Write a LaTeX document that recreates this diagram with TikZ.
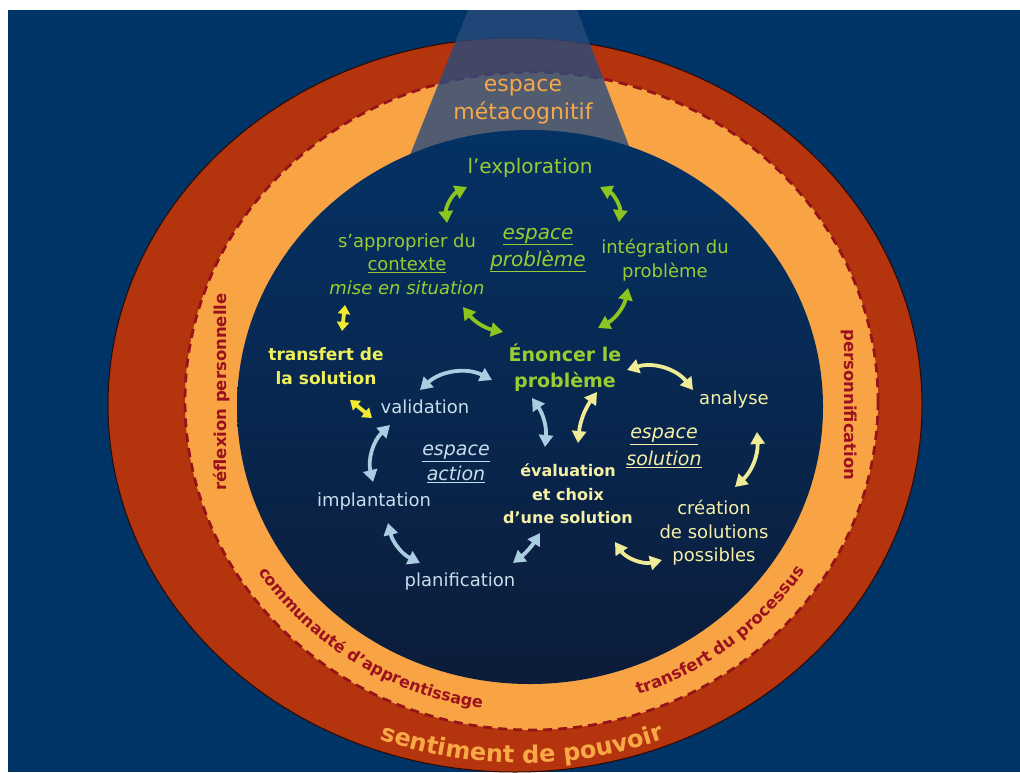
\documentclass[tikz,border=0pt]{standalone}
\usepackage{fontspec}
\setmainfont{DejaVu Sans}
\usepackage{tikz}
\usetikzlibrary{arrows.meta,decorations.text}
\definecolor{bgblue}{RGB}{0,51,102}
\definecolor{ringin}{RGB}{180,52,14}
\definecolor{ringout}{RGB}{105,24,8}
\definecolor{ringorange}{RGB}{248,163,68}
\definecolor{dashred}{RGB}{150,20,25}
\definecolor{spacetop}{RGB}{4,50,100}
\definecolor{spacebot}{RGB}{12,28,58}
\definecolor{metablue}{RGB}{40,75,125}
\definecolor{probgreen}{RGB}{153,204,51}
\definecolor{actblue}{RGB}{200,222,236}
\definecolor{solyellow}{RGB}{245,240,165}
\definecolor{transyellow}{RGB}{240,240,90}
\definecolor{ringtext}{RGB}{155,18,30}
\definecolor{metaorange}{RGB}{248,168,70}
\definecolor{greenarr}{RGB}{140,196,32}
\definecolor{bluearr}{RGB}{170,205,225}
\definecolor{solarr}{RGB}{240,235,150}
\definecolor{transarr}{RGB}{240,235,50}
\pgfdeclareradialshading{ringshade}{\pgfpoint{0bp}{0bp}}{color(0bp)=(ringin); color(43bp)=(ringin); color(50bp)=(ringout)}
\tikzset{lbl/.style = {inner sep=0pt, align=center, font=\fontsize{18}{23.5}\selectfont},
         boldlbl/.style = {lbl, font=\fontsize{17}{23.5}\selectfont\bfseries},
         spacelbl/.style = {lbl, font=\fontsize{20}{27}\selectfont\itshape},
         ringlbl/.style = {inner sep=0pt, text=ringtext, font=\fontsize{16.5}{16.5}\selectfont\bfseries},
         bigarrow/.style = {line width=3.8pt, >={Triangle[length=12pt,width=14pt]}, <->},
         greenarrow/.style = {bigarrow, draw=greenarr},
         bluearrow/.style = {bigarrow, draw=bluearr},
         solarrow/.style = {bigarrow, draw=solarr},
         transarrow/.style = {bigarrow, draw=transarr, >={Triangle[length=9pt,width=12pt]}}}

\begin{document}
\begin{tikzpicture}[x=1pt, y=-1pt]
    \useasboundingbox (0,0) rectangle (1020,772);
    \fill[white] (0,0) rectangle (1020,772);
    \fill[bgblue] (8,10) rectangle (1020,772);

    \shadedraw[shading=ringshade, draw=black!60!ringout, line width=1pt] (515,405) ellipse [x radius=407, y radius=367];
    \fill[ringorange] (531.5,401) ellipse [x radius=346.5, y radius=329];
    \draw[dashred, line width=2.8pt, dash pattern=on 9pt off 6pt] (531.5,401) ellipse [x radius=346.5, y radius=329];
    \fill[metablue, opacity=0.8] (468,10) -- (577,10) -- (642,180) -- (400,180) -- cycle;
    \shade[top color=spacetop, bottom color=spacebot] (530,407) ellipse [x radius=293, y radius=277];

    \node[lbl, text=metaorange, font=\fontsize{22}{28}\selectfont] (metacog) at (523,102) {espace\\métacognitif};
    \node[ringlbl, rotate=90]  (reflexion) at (222,392) {réflexion personnelle};
    \node[ringlbl, rotate=-90] (personnif) at (849,405) {personnification};

    \path[decorate, decoration={text along path, text align=center,
          text={|\fontsize{16}{16}\selectfont\bfseries\color{ringtext}|communauté d'apprentissage}}]
          ([shift={(160:326 and 309)}]531,403) arc[start angle=160, end angle=86, x radius=326, y radius=309];
    \path[decorate, decoration={text along path, text align=center,
          text={|\fontsize{16.5}{16.5}\selectfont\bfseries\color{ringtext}|transfert du processus}}]
          ([shift={(88:326 and 309)}]531,403) arc[start angle=88, end angle=15, x radius=326, y radius=309];
    \path[decorate, decoration={text along path, text align=center,
          text={|\fontsize{24}{24}\selectfont\bfseries\color{metaorange}|sentiment de pouvoir}}]
          ([shift={(120:398 and 358)}]522,405) arc[start angle=120, end angle=60, x radius=398, y radius=358];

    \node[lbl, text=probgreen, font=\fontsize{20}{23.5}\selectfont] (exploration) at (530,168) {l'exploration};
    \node[lbl, text=probgreen]       (approprier)    at (407,264) {s'approprier du\\\underline{contexte}\\\textit{mise en situation}};
    \node[spacelbl, text=probgreen]  (espprob)       at (538,250) {\underline{espace}\\\underline{problème}};
    \node[lbl, text=probgreen]       (integration)   at (665,260) {intégration du\\problème};
    \node[boldlbl, text=probgreen, font=\fontsize{19}{26}\selectfont\bfseries] (enoncer) at (565,368) {Énoncer le\\problème};
    \node[boldlbl, text=transyellow] (transfert)     at (326,366) {transfert de\\la solution};
    \node[lbl, text=actblue]         (validation)    at (425,407) {validation};
    \node[spacelbl, text=actblue, font=\fontsize{19}{25}\selectfont\itshape] (espaction) at (456,464) {\underline{espace}\\\underline{action}};
    \node[lbl, text=actblue]         (implantation)  at (374,502) {implantation};
    \node[lbl, text=actblue]         (planification) at (460,582) {planification};
    \node[boldlbl, text=solyellow, font=\fontsize{16}{23.5}\selectfont\bfseries] (evaluation) at (568,494) {évaluation\\et choix\\d'une solution};
    \node[lbl, text=solyellow]       (analyse)       at (734,400) {analyse};
    \node[spacelbl, text=solyellow, font=\fontsize{19}{27}\selectfont\itshape] (espsol) at (664,448) {\underline{espace}\\\underline{solution}};
    \node[lbl, text=solyellow]       (creation)      at (714,533) {création\\de solutions\\possibles};

    \coordinate (g1a) at (467,187);
    \coordinate (g1b) at (447,223);
    \coordinate (g2a) at (600,187);
    \coordinate (g2b) at (619,222);
    \coordinate (g3a) at (463,307);
    \coordinate (g3b) at (503,332);
    \coordinate (g4a) at (628,288);
    \coordinate (g4b) at (598,328);
    \coordinate (t1a) at (345,305);
    \coordinate (t1b) at (342,331);
    \coordinate (t2a) at (350,400);
    \coordinate (t2b) at (372,418);
    \coordinate (b1a) at (492,380);
    \coordinate (b1b) at (420,390);
    \coordinate (b2a) at (390,425);
    \coordinate (b2b) at (373,482);
    \coordinate (b3a) at (388,523);
    \coordinate (b3b) at (420,563);
    \coordinate (b4a) at (513,563);
    \coordinate (b4b) at (540,533);
    \coordinate (b5a) at (532,398);
    \coordinate (b5b) at (545,447);
    \coordinate (s1a) at (597,392);
    \coordinate (s1b) at (578,443);
    \coordinate (s2a) at (627,370);
    \coordinate (s2b) at (693,390);
    \coordinate (s3a) at (757,432);
    \coordinate (s3b) at (735,487);
    \coordinate (s4a) at (615,542);
    \coordinate (s4b) at (662,560);

    \draw[greenarrow] (g1a) to[bend right=35] (g1b);
    \draw[greenarrow] (g2a) to[bend left=35] (g2b);
    \draw[greenarrow] (g3a) to[bend right=20] (g3b);
    \draw[greenarrow] (g4a) to[bend left=25] (g4b);
    \draw[transarrow] (t1a) -- (t1b);
    \draw[transarrow] (t2a) -- (t2b);
    \draw[bluearrow] (b1a) to[bend right=35] (b1b);
    \draw[bluearrow] (b2a) to[bend right=30] (b2b);
    \draw[bluearrow] (b3a) to[bend right=25] (b3b);
    \draw[bluearrow] (b4a) to[bend right=10] (b4b);
    \draw[bluearrow] (b5a) to[bend left=20] (b5b);
    \draw[solarrow] (s1a) to[bend right=15] (s1b);
    \draw[solarrow] (s2a) to[bend left=35] (s2b);
    \draw[solarrow] (s3a) to[bend left=25] (s3b);
    \draw[solarrow] (s4a) to[bend right=35] (s4b);
\end{tikzpicture}
\end{document}
